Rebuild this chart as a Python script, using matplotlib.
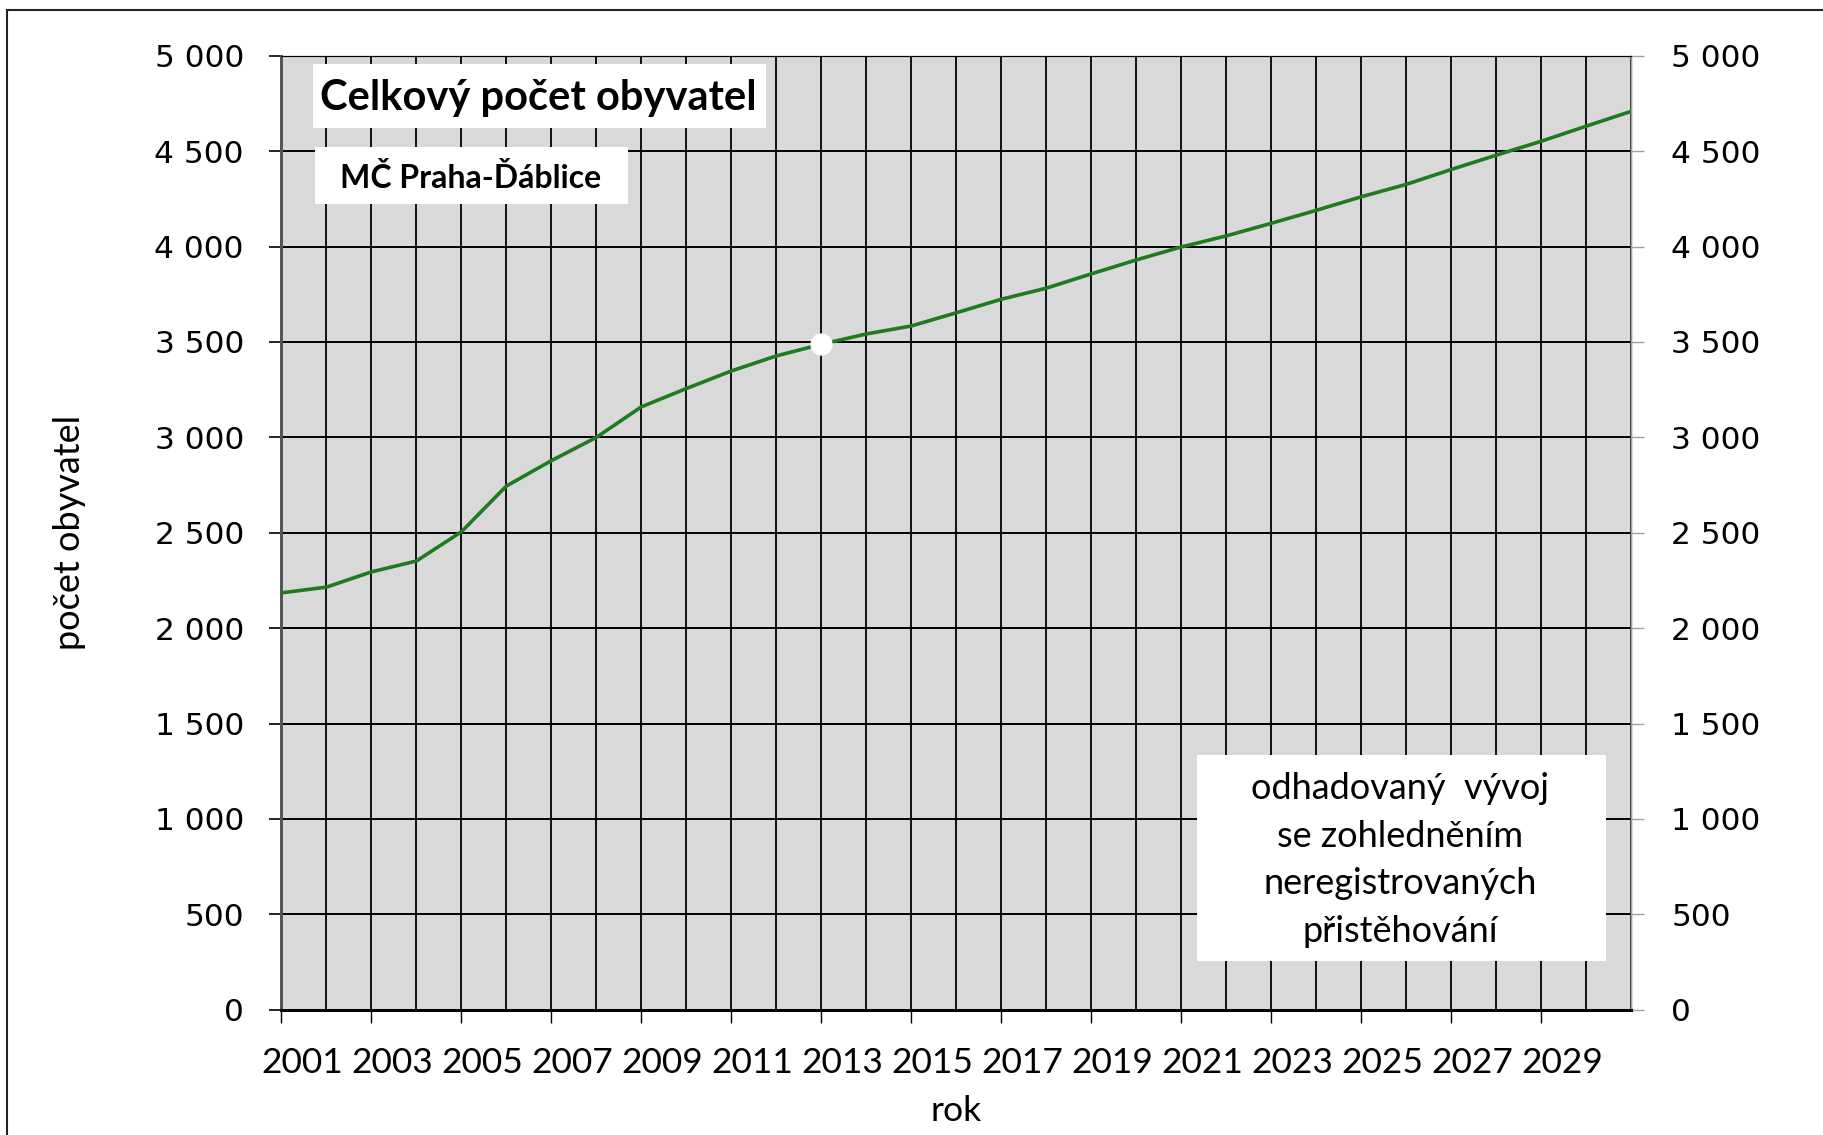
import matplotlib
matplotlib.use("Agg")
import matplotlib.pyplot as plt
import matplotlib.transforms as mtransforms
from matplotlib.patches import Rectangle
from matplotlib.ticker import FuncFormatter, MultipleLocator

# data
YEARS = list(range(2001, 2032))
POPULATION = [2185, 2215, 2295, 2352, 2505, 2745, 2878, 3000, 3160, 3256,
              3348, 3427, 3488, 3542, 3584, 3653, 3724, 3782, 3857, 3930,
              3998, 4056, 4122, 4190, 4261, 4326, 4404, 4479, 4552, 4631,
              4709]
MARK_YEAR = 2013
MARK_VALUE = 3490
LABEL_YEARS = list(range(2001, 2030, 2))

TITLE = "Celkový počet obyvatel"
SUBTITLE = "MČ Praha-Ďáblice"
NOTE = "odhadovaný  vývoj\nse zohledněním\nneregistrovaných\npřistěhování"

plt.rcParams['font.family'] = ['Lato', 'DejaVu Sans']

fig = plt.figure(figsize=(18.24, 11.35), dpi=100)
ax = fig.add_axes([0.1543, 0.1104, 0.7399, 0.8404])
ax.set_facecolor('#d9d9d9')

ax.plot(YEARS, POPULATION, color='#1e7b1e', lw=2.6, zorder=3)
ax.plot([MARK_YEAR], [MARK_VALUE], 'o', color='white', ms=15, zorder=4)

ax.set_xlim(2001, 2031)
ax.set_ylim(0, 5000)

# grid: every year vertically, every 500 horizontally
ax.xaxis.set_minor_locator(MultipleLocator(1))
ax.set_xticks(LABEL_YEARS)
ax.set_xticklabels([str(y) for y in LABEL_YEARS])
ax.yaxis.set_major_locator(MultipleLocator(500))
ax.grid(which='both', axis='x', color='black', lw=1.3, zorder=1)
ax.grid(which='major', axis='y', color='black', lw=1.4, zorder=1)
ax.set_axisbelow(True)
ax.tick_params(axis='x', which='minor', length=0)
ax.tick_params(axis='x', which='major', length=9.5, width=1, pad=17,
               labelsize=25.5, direction='out')
ax.tick_params(axis='y', length=9, width=1.2, pad=18, direction='out')

fmt = FuncFormatter(lambda v, p: f"{v:,.0f}".replace(",", " "))
ax.yaxis.set_major_formatter(fmt)
for lab in ax.get_yticklabels():
    lab.set_fontfamily('DejaVu Sans')
    lab.set_fontsize(22.5)

# year labels sit a bit right of their ticks
shift = mtransforms.ScaledTranslation(0.21, 0, fig.dpi_scale_trans)
for lab in ax.get_xticklabels():
    lab.set_transform(lab.get_transform() + shift)

ax2 = ax.twinx()
ax2.set_ylim(0, 5000)
ax2.yaxis.set_major_locator(MultipleLocator(500))
ax2.yaxis.set_major_formatter(fmt)
ax2.tick_params(axis='y', length=9, width=1, color='#a0a0a0', pad=20)
for lab in ax2.get_yticklabels():
    lab.set_fontfamily('DejaVu Sans')
    lab.set_fontsize(22.5)

for a in (ax, ax2):
    a.spines['top'].set_color('black')
    a.spines['bottom'].set_linewidth(2)
    a.spines['left'].set_color('#555555')
    a.spines['left'].set_linewidth(2)
    a.spines['right'].set_color('#a0a0a0')
    a.spines['right'].set_linewidth(1)

ax.set_ylabel("počet obyvatel", fontsize=26)
ax.yaxis.set_label_coords(-0.145, 0.5)
ax.set_xlabel("rok", fontsize=25.5)
ax.xaxis.set_label_coords(0.5, -0.106)
ax.xaxis.label.set_va('center')

# text boxes
ax.add_patch(Rectangle((0.0232, 0.9244), 0.3355, 0.0671, transform=ax.transAxes,
                       facecolor='white', edgecolor='none', zorder=5))
ax.text(0.1905, 0.956, TITLE, transform=ax.transAxes, fontsize=30,
        fontweight='bold', ha='center', va='center', zorder=6)

ax.add_patch(Rectangle((0.0245, 0.8446), 0.2323, 0.0598, transform=ax.transAxes,
                       facecolor='white', edgecolor='none', zorder=5))
ax.text(0.1405, 0.8719, SUBTITLE, transform=ax.transAxes, fontsize=23,
        fontweight='bold', ha='center', va='center', zorder=6)

ax.add_patch(Rectangle((0.6781, 0.0511), 0.3035, 0.2154, transform=ax.transAxes,
                       facecolor='white', edgecolor='none', zorder=5))
ax.text(0.829, 0.157, NOTE, transform=ax.transAxes, fontsize=26,
        ha='center', va='center', linespacing=1.55, zorder=6)

# outer frame of the picture
fig.add_artist(Rectangle((7 / 1824, -0.1), 1.2, 1.1 - 10 / 1135,
                         transform=fig.transFigure, facecolor='none',
                         edgecolor='#222222', lw=1.5))

fig.savefig("out.png", dpi=100)
